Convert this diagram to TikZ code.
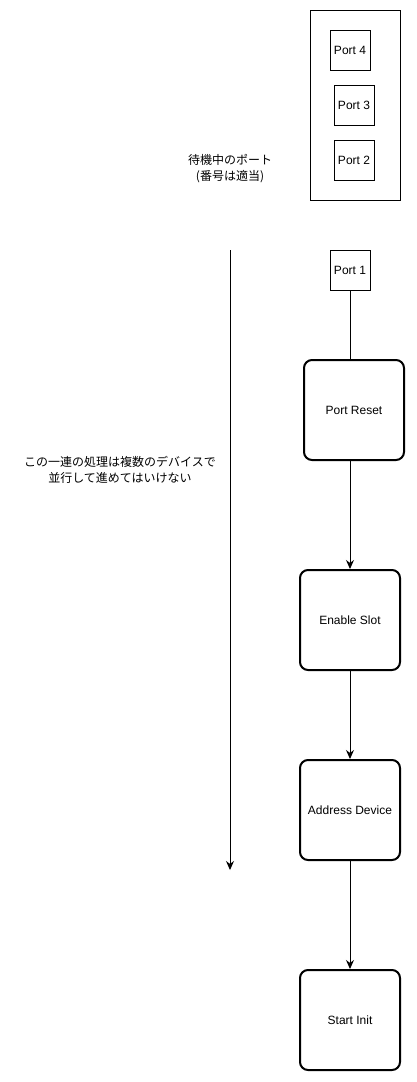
\documentclass[tikz,border=0pt]{standalone}
\usepackage{fontspec}
\setmainfont{Liberation Sans}
\newfontfamily\jp{Noto Sans CJK JP}
\usepackage{tikz}
\usetikzlibrary{positioning, arrows.meta}

\begin{document}
\begin{tikzpicture}[
            x=1pt, y=-1pt,
            every node/.style={font=\fontsize{12}{16}\selectfont, inner sep=0pt},
            port/.style={draw, line width=1pt, minimum width=40pt, minimum height=40pt},
            stepbox/.style={draw, line width=2pt, rounded corners=8pt, minimum width=100pt, minimum height=100pt},
            flow/.style={line width=1pt, -{Stealth[length=9pt, width=8pt]}}
        ]
            \useasboundingbox (0,0) rectangle (416,1082);
            % waiting ports
            \node[draw, line width=1pt, minimum width=90pt, minimum height=190pt] (pool) at (355,105) {};
            \node[port] (p4) at (350,50) {Port 4};
            \node[port] (p3) at (354,105) {Port 3};
            \node[port] (p2) at (354,160) {Port 2};
            \node[align=center] (poollabel) at (230,169) {\jp 待機中のポート\\\jp (番号は適当)};
            % sequence
            \node[port] (p1) at (350,270) {Port 1};
            \node[stepbox] (reset) at (354,410) {Port Reset};
            \node[stepbox] (slot) at (350,620) {Enable Slot};
            \node[stepbox] (addr) at (350,810) {Address Device};
            \node[stepbox] (init) at (350,1020) {Start Init};
            \draw[line width=1pt] (p1) -- (p1 |- reset.north);
            \draw[flow] (reset.south -| slot) -- (slot);
            \draw[flow] (slot) -- (addr);
            \draw[flow] (addr) -- (init);
            % note
            \coordinate (top) at (230,250);
            \coordinate (bottom) at (230,870);
            \draw[flow] (top) -- (bottom);
            \node[align=center] (note) at (120,470) {\jp この一連の処理は複数のデバイスで\\\jp 並行して進めてはいけない};
        \end{tikzpicture}
\end{document}
